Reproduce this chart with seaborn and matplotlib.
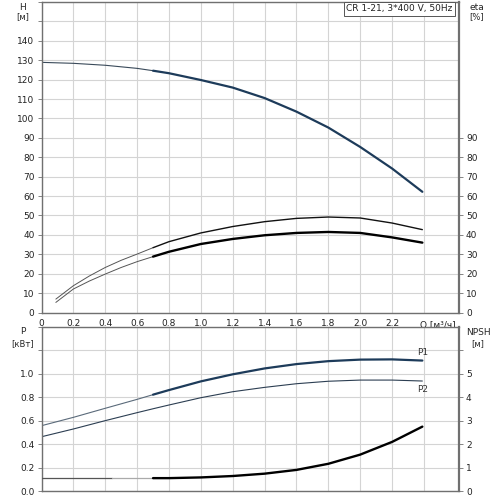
import numpy as np
import pandas as pd
import matplotlib
matplotlib.use("Agg")
import matplotlib.pyplot as plt
import seaborn as sns

# pump curve data (Q in m3/h)
q = [0, 0.2, 0.4, 0.6, 0.7, 0.8, 1.0, 1.2, 1.4, 1.6, 1.8, 2.0, 2.2, 2.39]
head = [128.9, 128.4, 127.4, 125.8, 124.6, 123.3, 119.8, 115.9, 110.5, 103.5, 95.3, 85.3, 74.2, 62.2]

q_eta = [0.09, 0.2, 0.3, 0.4, 0.5, 0.6, 0.7, 0.8, 1.0, 1.2, 1.4, 1.6, 1.8, 2.0, 2.2, 2.39]
eta_upper = [6.9, 13.8, 18.8, 23.2, 26.9, 30.1, 33.4, 36.5, 41.0, 44.3, 46.8, 48.5, 49.2, 48.7, 46.1, 42.7]
eta_lower = [5.2, 12.1, 16.2, 19.8, 23.2, 26.2, 28.8, 31.3, 35.3, 37.9, 39.8, 41.0, 41.5, 41.0, 38.7, 36.0]

p1 = [0.558, 0.629, 0.706, 0.782, 0.822, 0.861, 0.935, 0.995, 1.045, 1.082, 1.107, 1.120, 1.122, 1.112]
p2 = [0.464, 0.530, 0.601, 0.669, 0.702, 0.734, 0.796, 0.847, 0.884, 0.915, 0.936, 0.946, 0.946, 0.938]

q_npsh = [0, 0.44, 0.7, 0.8, 1.0, 1.2, 1.4, 1.6, 1.8, 2.0, 2.2, 2.39]
npsh = [0.56, 0.56, 0.56, 0.56, 0.59, 0.65, 0.75, 0.91, 1.17, 1.56, 2.10, 2.75]

q_ticks = [0, 0.2, 0.4, 0.6, 0.8, 1.0, 1.2, 1.4, 1.6, 1.8, 2.0, 2.2, 2.4]
q_labels = ["0", "0.2", "0.4", "0.6", "0.8", "1.0", "1.2", "1.4", "1.6", "1.8", "2.0", "2.2", ""]

sns.set_style("white")
plt.rcParams["font.family"] = ["DejaVu Sans"]
fs = 6.5
grid_c = "#d4d4d4"
spine_c = "#707070"
navy = "#1d3b5a"

df_h = pd.DataFrame({"Q": q, "H": head, "P1": p1, "P2": p2})
df_eta = pd.DataFrame({"Q": q_eta, "up": eta_upper, "low": eta_lower})
df_n = pd.DataFrame({"Q": q_npsh, "NPSH": npsh})

fig = plt.figure(figsize=(5, 5), dpi=100)
ax1 = fig.add_axes([0.083, 0.375, 0.835, 0.621])
ax2 = fig.add_axes([0.083, 0.0174, 0.835, 0.3292])

xmax = 2.62


def style(ax, ymax, ystep):
    ax.set_xlim(0, xmax)
    ax.set_ylim(0, ymax)
    ax.set_xticks(q_ticks)
    ax.set_yticks(np.arange(0, ymax + 1e-9, ystep))
    ax.grid(True, color=grid_c, linewidth=0.8)
    ax.set_axisbelow(True)
    for s in ax.spines.values():
        s.set_color(spine_c)
        s.set_linewidth(1.0)
    ax.spines["right"].set_linewidth(1.6)
    ax.tick_params(axis="both", labelsize=fs, length=3, width=0.6,
                   color=spine_c, pad=2, labelcolor="#222222")
    ax.set_xlabel("")
    ax.set_ylabel("")


# ---- top: head and efficiency
thin = df_h[df_h.Q <= 0.7]
thick = df_h[df_h.Q >= 0.7]
sns.lineplot(data=thin, x="Q", y="H", ax=ax1, color="#3a4a5a", linewidth=0.8)
sns.lineplot(data=thick, x="Q", y="H", ax=ax1, color=navy, linewidth=1.6)

sns.lineplot(data=df_eta[df_eta.Q <= 0.7], x="Q", y="up", ax=ax1, color="#555555", linewidth=0.7)
sns.lineplot(data=df_eta[df_eta.Q >= 0.7], x="Q", y="up", ax=ax1, color="#111111", linewidth=1.0)
sns.lineplot(data=df_eta[df_eta.Q <= 0.7], x="Q", y="low", ax=ax1, color="#555555", linewidth=0.7)
sns.lineplot(data=df_eta[df_eta.Q >= 0.7], x="Q", y="low", ax=ax1, color="#000000", linewidth=1.7)

style(ax1, 160, 10)
ax1.set_xticklabels(q_labels)
ax1.set_yticklabels([str(v) if v <= 140 else "" for v in range(0, 161, 10)])
ax1.text(2.6, -4.2, "Q [м³/ч]", fontsize=fs, ha="right", va="top", color="#222222")

ax1r = ax1.twinx()
ax1r.set_ylim(0, 160)
ax1r.set_yticks(range(0, 91, 10))
ax1r.tick_params(axis="y", labelsize=fs, length=3, width=0.6, color=spine_c, pad=2,
                 labelcolor="#222222")
for s in ax1r.spines.values():
    s.set_visible(False)

fig.text(0.046, 0.985, "H", fontsize=fs, ha="center", va="center")
fig.text(0.046, 0.966, "[м]", fontsize=fs - 0.5, ha="center", va="center")
fig.text(0.953, 0.985, "eta", fontsize=fs, ha="center", va="center")
fig.text(0.953, 0.966, "[%]", fontsize=fs - 0.5, ha="center", va="center")

ax1.text(0.985, 0.992, "CR 1-21, 3*400 V, 50Hz", transform=ax1.transAxes,
         fontsize=fs, ha="right", va="top", color="#222222",
         bbox=dict(boxstyle="square,pad=0.25", fc="white", ec="#555555", lw=0.7))

# ---- bottom: power and NPSH
sns.lineplot(data=df_h[df_h.Q <= 0.7], x="Q", y="P1", ax=ax2, color="#5a6a7a", linewidth=0.8)
sns.lineplot(data=df_h[df_h.Q >= 0.7], x="Q", y="P1", ax=ax2, color=navy, linewidth=1.6)
sns.lineplot(data=df_h, x="Q", y="P2", ax=ax2, color="#2c3e52", linewidth=0.8)
style(ax2, 1.4, 0.2)
ax2.set_xticklabels([])
ax2.set_yticklabels(["0.0", "0.2", "0.4", "0.6", "0.8", "1.0", "", ""])
ax2.text(2.39, p1[-1] + 0.03, "P1", fontsize=fs, ha="center", va="bottom", color="#333333")
ax2.text(2.39, p2[-1] - 0.03, "P2", fontsize=fs, ha="center", va="top", color="#333333")

ax2r = ax2.twinx()
ax2r.set_ylim(0, 7)
ax2r.set_yticks(range(0, 7))
ax2r.set_yticklabels(["0", "1", "2", "3", "4", "5", ""])
ax2r.tick_params(axis="y", labelsize=fs, length=3, width=0.6, color=spine_c, pad=2,
                 labelcolor="#222222")
for s in ax2r.spines.values():
    s.set_visible(False)
sns.lineplot(data=df_n[df_n.Q <= 0.44], x="Q", y="NPSH", ax=ax2r, color="#555555", linewidth=0.9)
sns.lineplot(data=df_n[(df_n.Q >= 0.44) & (df_n.Q <= 0.7)], x="Q", y="NPSH", ax=ax2r,
             color="#aaaaaa", linewidth=0.9)
sns.lineplot(data=df_n[df_n.Q >= 0.7], x="Q", y="NPSH", ax=ax2r, color="#000000", linewidth=1.7)
ax2r.set_ylabel("")
ax2r.set_xlim(0, xmax)

fig.text(0.046, 0.337, "P", fontsize=fs, ha="center", va="center")
fig.text(0.046, 0.313, "[кВт]", fontsize=fs - 0.5, ha="center", va="center")
fig.text(0.956, 0.335, "NPSH", fontsize=fs, ha="center", va="center")
fig.text(0.956, 0.313, "[м]", fontsize=fs - 0.5, ha="center", va="center")

fig.savefig("out.png", dpi=100)
